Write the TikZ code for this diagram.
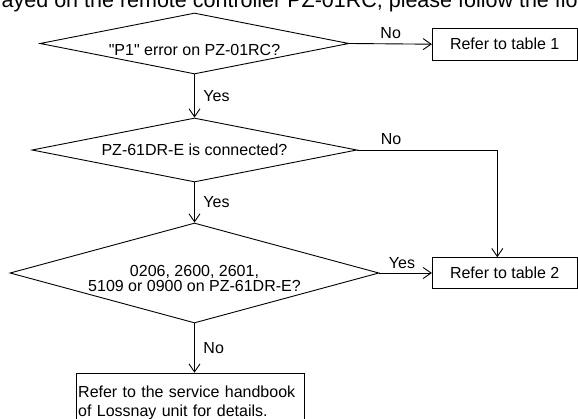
\documentclass[tikz,border=0pt]{standalone}
\usepackage{fontspec}
\setmainfont{Liberation Sans}[Ligatures=TeXOff]
\usetikzlibrary{shapes.geometric,arrows.meta,positioning}

\begin{document}
\begin{tikzpicture}[x=1pt, y=-1pt,
  every node/.style={font=\fontsize{16}{18}\selectfont},
  decision/.style={draw, shape=diamond, inner sep=0pt, line width=0.9pt},
  result/.style={draw, rectangle, inner sep=0pt, line width=0.9pt},
  answer/.style={inner sep=0pt},
  flow/.style={-{Straight Barb[length=8pt,width=11pt]}, line width=0.9pt}]
  \useasboundingbox (0,0) rectangle (578,419);
  \clip (0,0) rectangle (578,419);

  % cut-off intro line
  \node[anchor=base west, inner sep=0pt, font=\fontsize{21.5}{24}\selectfont] (intro) at (1.5,7.3)
    {ayed on the remote controller PZ-01RC, please follow the flo};

  % P1 error
  \node[decision, minimum width=309, minimum height=61, aspect=5, text height=24.5pt, text depth=0pt]
    (p1) at (194.5,43.5) {"P1" error on PZ-01RC?};
  \node[result, minimum width=144.7, minimum height=31.7] (tab1) at (504.7,44.2) {Refer to table 1};

  % PZ-61DR-E
  \node[decision, minimum width=325, minimum height=64, aspect=5] (conn) at (194.5,150) {PZ-61DR-E is connected?};
  \coordinate (bend) at (497.3,150);

  % error codes
  \node[decision, minimum width=369, minimum height=100, aspect=3.7, align=center,
    font=\fontsize{16}{15.5}\selectfont, text height=37.4pt, text depth=0pt]
    (codes) at (194.5,273) {0206, 2600, 2601,\\5109 or 0900 on PZ-61DR-E?};
  \node[result, minimum width=144.7, minimum height=30.6] (tab2) at (504.7,273) {Refer to table 2};
  \node[result, anchor=north, text width=224.3pt, align=left, inner xsep=1.5pt, inner ysep=13pt,
    font=\fontsize{16}{18.3}\selectfont] (hbook) at (190.35,372.7)
    {Refer to the service handbook\\of Lossnay unit for details.};

  % connectors
  \draw[flow] (p1.east) -- node[answer, above=4.5pt] (no1) {No} (tab1.west);
  \draw[flow] (p1.south) -- node[answer, right=8.5pt] (yes1) {Yes} (conn.north);
  \draw[flow] (conn.east) -- node[answer, above=4.5pt, pos=0.24] (no2) {No} (bend) -- (bend |- tab2.north);
  \draw[flow] (conn.south) -- node[answer, right=8.5pt] (yes2) {Yes} (codes.north);
  \draw[flow] (codes.east) -- node[answer, above=4pt, pos=0.43] (yes3) {Yes} (tab2.west);
  \draw[flow] (codes.south) -- node[answer, right=8.5pt] (no3) {No} (codes.south |- hbook.north);
\end{tikzpicture}
\end{document}
